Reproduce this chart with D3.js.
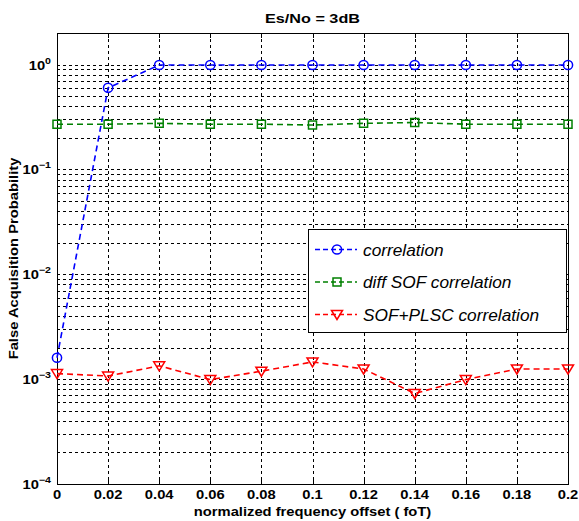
<!DOCTYPE html>
<html>
<head>
<meta charset="utf-8">
<script src="https://cdn.jsdelivr.net/npm/d3@7/dist/d3.min.js"></script>
<style>
  body { margin: 0; background: #fff; }
  text { font-family: "Liberation Sans", Arial, sans-serif; }
</style>
</head>
<body>
<svg id="chart" width="579" height="521"></svg>
<script>
// Data
const offsets = [0, 0.02, 0.04, 0.06, 0.08, 0.1, 0.12, 0.14, 0.16, 0.18, 0.2];
const correlation = [1.6e-3, 0.60, 0.99, 0.99, 0.99, 0.99, 0.99, 0.99, 0.99, 0.99, 0.99];
const diffSof = [0.27, 0.27, 0.275, 0.27, 0.27, 0.265, 0.275, 0.28, 0.27, 0.27, 0.27];
const sofPlsc = [1.13e-3, 1.07e-3, 1.34e-3, 0.99e-3, 1.19e-3, 1.46e-3, 1.25e-3, 0.73e-3, 0.99e-3, 1.25e-3, 1.25e-3];
const xTickLabels = ['0', '0.02', '0.04', '0.06', '0.08', '0.1', '0.12', '0.14', '0.16', '0.18', '0.2'];
const yDecades = [0, -1, -2, -3, -4];

const series = [
    { name: 'correlation', values: correlation, color: '#0000ff', marker: 'circle' },
    { name: 'diff SOF correlation', values: diffSof, color: '#008000', marker: 'square' },
    { name: 'SOF+PLSC correlation', values: sofPlsc, color: '#ff0000', marker: 'triangle' }
];

/**
 * Layout.
 */
const margin = { top: 33, right: 11, bottom: 37, left: 57 };
const svg = d3.select('#chart');
const W = +svg.attr('width'), H = +svg.attr('height');
const width = W - margin.left - margin.right,
    height = H - margin.top - margin.bottom;
const stretch = 1.18; // text in the picture is a bit wider than the font

const x = d3.scaleLinear().domain([0, 0.2]).range([0, width]);
const y = d3.scaleLog().domain([1e-4, 2]).range([height, 0]);

const g = svg.append('g').attr('transform', 'translate(' + margin.left + ',' + margin.top + ')');

// Grid: vertical
g.append('g').selectAll('line').data(offsets.slice(1, -1)).join('line')
    .attr('x1', d => Math.round(x(d)) + 0.5).attr('x2', d => Math.round(x(d)) + 0.5)
    .attr('y1', 0).attr('y2', height)
    .attr('stroke', '#000').attr('stroke-width', 1).attr('stroke-dasharray', '3,3');

// Grid: horizontal major + minor
const yGrid = [];
for (let e = -4; e <= 0; e++) {
    for (let m = 1; m <= 9; m++) {
        const v = m * Math.pow(10, e);
        if (v > 1e-4 && v < 2) yGrid.push(v);
    }
}
g.append('g').selectAll('line').data(yGrid).join('line')
    .attr('x1', 0).attr('x2', width)
    .attr('y1', d => Math.round(y(d)) + 0.5).attr('y2', d => Math.round(y(d)) + 0.5)
    .attr('stroke', '#000').attr('stroke-width', 1).attr('stroke-dasharray', '3,3');

// Box
g.append('rect').attr('x', 0.5).attr('y', 0.5).attr('width', width).attr('height', height)
    .attr('fill', 'none').attr('stroke', '#000').attr('stroke-width', 1);

// Ticks (inside)
g.append('g').selectAll('line').data(offsets).join('line')
    .attr('x1', d => Math.round(x(d)) + 0.5).attr('x2', d => Math.round(x(d)) + 0.5)
    .attr('y1', height).attr('y2', height - 5).attr('stroke', '#000');
g.append('g').selectAll('line').data(offsets).join('line')
    .attr('x1', d => Math.round(x(d)) + 0.5).attr('x2', d => Math.round(x(d)) + 0.5)
    .attr('y1', 0).attr('y2', 5).attr('stroke', '#000');

// X tick labels
g.append('g').selectAll('text').data(offsets).join('text')
    .attr('transform', d => 'translate(' + x(d) + ',' + (height + 15) + ') scale(' + stretch + ',1)')
    .attr('text-anchor', 'middle')
    .attr('font-size', 12.5).attr('font-weight', 'bold')
    .text((d, i) => xTickLabels[i]);

// Y tick labels 10^e
const yl = g.append('g').selectAll('text').data(yDecades).join('text')
    .attr('transform', d => 'translate(-6,' + (y(Math.pow(10, d)) + 5) + ') scale(' + stretch + ',1)')
    .attr('text-anchor', 'end')
    .attr('font-size', 12.5).attr('font-weight', 'bold');
yl.append('tspan').text('10');
yl.append('tspan').attr('dy', -6).attr('font-size', 9).text(d => d === 0 ? '0' : '\u2212' + (-d));

// Lines
const line = d3.line().x((d, i) => x(offsets[i])).y(d => y(d));
series.forEach(s => {
    const sg = g.append('g');
    sg.append('path').datum(s.values)
        .attr('d', line)
        .attr('fill', 'none').attr('stroke', s.color)
        .attr('stroke-width', 1.6).attr('stroke-dasharray', '6,4');
    sg.selectAll('path.m').data(s.values).join('path').attr('class', 'm')
        .attr('transform', (d, i) => 'translate(' + x(offsets[i]) + ',' + y(d) + ')')
        .attr('d', markerPath(s.marker))
        .attr('fill', 'none').attr('stroke', s.color).attr('stroke-width', 1.5);
});

function markerPath(type) {
    if (type === 'circle') return 'M4.6,0A4.6,4.6 0 1,1 -4.6,0A4.6,4.6 0 1,1 4.6,0Z';
    if (type === 'square') return 'M-4,-4H4V4H-4Z';
    return 'M-5.5,-4H5.5L0,5Z';
}

// Legend
const legend = svg.append('g').attr('transform', 'translate(308,229)');
legend.append('rect').attr('x', 0.5).attr('y', 0.5).attr('width', 258).attr('height', 103)
    .attr('fill', '#fff').attr('stroke', '#000').attr('stroke-width', 1);
series.forEach((s, i) => {
    const ly = 20.5 + i * 32.5;
    const row = legend.append('g').attr('transform', 'translate(0,' + ly + ')');
    row.append('line').attr('x1', 7).attr('x2', 49).attr('y1', 0).attr('y2', 0)
        .attr('stroke', s.color).attr('stroke-width', 1.6).attr('stroke-dasharray', '5,3');
    row.append('path').attr('transform', 'translate(29,0)').attr('d', markerPath(s.marker))
        .attr('fill', 'none').attr('stroke', s.color).attr('stroke-width', 1.5);
    row.append('text').attr('transform', 'translate(55,6) scale(1.08,1)')
        .attr('font-size', 16).attr('font-style', 'italic')
        .text(s.name);
});

// Title and axis labels
svg.append('text').attr('transform', 'translate(' + (margin.left + width / 2) + ',23) scale(1.2,1)')
    .attr('text-anchor', 'middle').attr('font-size', 13.5).attr('font-weight', 'bold')
    .text('Es/No = 3dB');
svg.append('text').attr('transform', 'translate(' + (margin.left + width / 2) + ',516) scale(' + stretch + ',1)')
    .attr('text-anchor', 'middle').attr('font-size', 12.5).attr('font-weight', 'bold')
    .text('normalized frequency offset ( foT)');
svg.append('text').attr('transform', 'translate(18,' + (margin.top + height / 2) + ') rotate(-90) scale(' + stretch + ',1)')
    .attr('text-anchor', 'middle').attr('font-size', 12.5).attr('font-weight', 'bold')
    .text('False Acquisition Probability');
</script>
</body>
</html>
